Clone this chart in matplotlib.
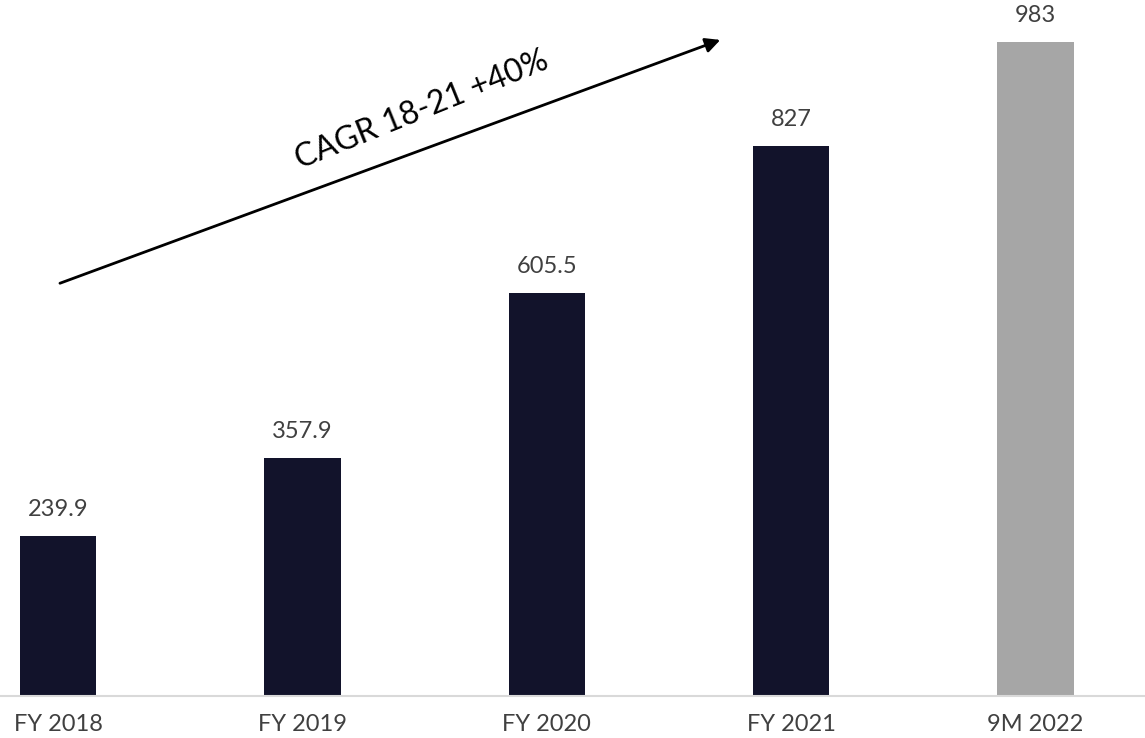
import matplotlib.pyplot as plt
import numpy as np

# Revenue by period
categories = ['FY 2018', 'FY 2019', 'FY 2020', 'FY 2021', '9M 2022']
values = [239.9, 357.9, 605.5, 827, 983]
value_labels = ['239.9', '357.9', '605.5', '827', '983']
bar_colors = ['#12132b', '#12132b', '#12132b', '#12132b', '#a6a6a6']

plt.rcParams['font.family'] = ['Lato', 'DejaVu Sans']

fig = plt.figure(figsize=(11.45, 7.38), dpi=100)
ax = fig.add_axes([0, 1 - 695.5 / 738, 1, 695.5 / 738])

x = np.arange(len(categories))
ax.bar(x, values, width=0.313, color=bar_colors, zorder=2)

for xi, v, lab in zip(x, values, value_labels):
    ax.text(xi, v + 24, lab, ha='center', va='bottom',
            fontsize=17, color='#404040')

ax.set_xlim(-0.2373, 4.4476)
ax.set_ylim(0, 1046)

ax.set_xticks(x)
ax.set_xticklabels(categories, fontsize=17, color='#404040')
ax.tick_params(axis='x', length=0, pad=13)
ax.set_yticks([])

for side in ['top', 'right', 'left']:
    ax.spines[side].set_visible(False)
ax.spines['bottom'].set_color('#d9d9d9')
ax.spines['bottom'].set_linewidth(1.5)

# growth arrow with CAGR note
ax.annotate('', xy=(2.71, 986), xytext=(0.008, 620),
            arrowprops=dict(arrowstyle='-|>', color='black', lw=2,
                            mutation_scale=22, shrinkA=0, shrinkB=0))
ax.text(1.49, 880, 'CAGR 18-21 +40%', rotation=22, ha='center', va='center',
        fontsize=23, color='black', rotation_mode='anchor')

fig.savefig('out.png', dpi=100)
